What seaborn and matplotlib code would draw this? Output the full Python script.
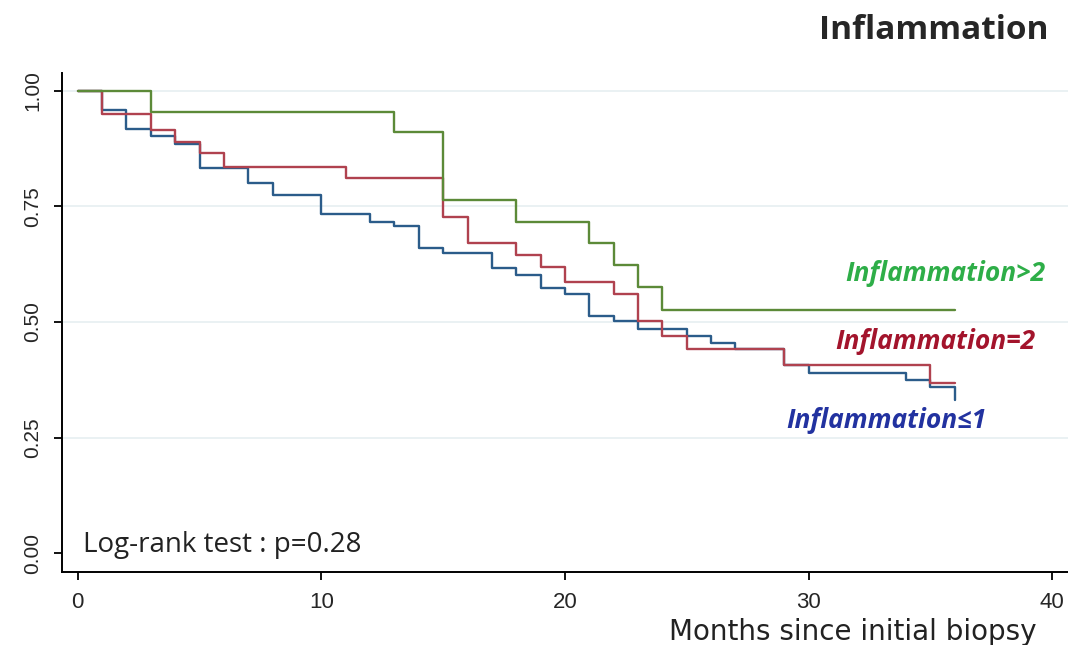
import matplotlib
matplotlib.use('Agg')
import matplotlib.pyplot as plt
import pandas as pd
import seaborn as sns

# Kaplan-Meier step values
t_low = [0, 1, 2, 3, 4, 5, 7, 8, 10, 12, 13, 14, 15, 17, 18, 19, 20, 21, 22, 23,
         25, 26, 27, 29, 30, 34, 35, 36]
s_low = [1.000, 0.959, 0.917, 0.903, 0.885, 0.833, 0.800, 0.775, 0.733, 0.717,
         0.708, 0.660, 0.649, 0.616, 0.602, 0.574, 0.560, 0.512, 0.502, 0.486,
         0.470, 0.454, 0.441, 0.407, 0.389, 0.374, 0.360, 0.331]

t_mid = [0, 1, 3, 4, 5, 6, 11, 15, 16, 18, 19, 20, 22, 23, 24, 25, 29, 35, 36]
s_mid = [1.000, 0.950, 0.916, 0.890, 0.865, 0.836, 0.811, 0.728, 0.670, 0.645,
         0.618, 0.586, 0.561, 0.503, 0.470, 0.441, 0.407, 0.369, 0.369]

t_high = [0, 3, 13, 15, 18, 21, 22, 23, 24, 36]
s_high = [1.000, 0.954, 0.912, 0.765, 0.717, 0.670, 0.623, 0.575, 0.527, 0.527]

groups = ['Inflammation≤1', 'Inflammation=2', 'Inflammation>2']
line_colors = ['#2b5c8a', '#b0424f', '#5c8a38']
text_colors = ['#2232a0', '#a3142c', '#2eae48']
y_ticks = [0.00, 0.25, 0.50, 0.75, 1.00]
x_ticks = [0, 10, 20, 30, 40]

df = pd.concat([
    pd.DataFrame({'month': t, 'surv': s, 'group': g})
    for t, s, g in zip([t_low, t_mid, t_high], [s_low, s_mid, s_high], groups)
])

sns.set_style('white')
fig = plt.figure(figsize=(10.68, 6.45), dpi=100)
ax = fig.add_axes([0.058, 0.113, 0.942, 0.774])

for g, c in zip(groups, line_colors):
    sns.lineplot(data=df[df.group == g], x='month', y='surv', color=c,
                 drawstyle='steps-post', linewidth=1.7, estimator=None,
                 legend=False, ax=ax)

ax.set_xlim(-0.65, 40.65)
ax.set_ylim(-0.041, 1.039)
ax.set_xticks(x_ticks)
ax.set_yticks(y_ticks)
ax.set_yticklabels(['%.2f' % v for v in y_ticks], rotation=90, va='center',
                   family='Liberation Sans', fontsize=15)
ax.set_xticklabels([str(v) for v in x_ticks], family='Liberation Sans', fontsize=16)
ax.tick_params(axis='both', direction='out', length=6, width=1.3, color='black',
               left=True, bottom=True, pad=8)
ax.set_xlabel('')
ax.set_ylabel('')

ax.grid(axis='y', color='#e6eff1', linewidth=1.2)
ax.get_ygridlines()[0].set_visible(False)
ax.set_axisbelow(True)

for side in ['top', 'right']:
    ax.spines[side].set_visible(False)
for side in ['left', 'bottom']:
    ax.spines[side].set_color('black')
    ax.spines[side].set_linewidth(1.4)

# curve labels
label_pos = [(33.2, 0.288), (35.2, 0.457), (35.6, 0.606)]
for g, c, (x, y) in zip(groups, text_colors, label_pos):
    ax.text(x, y, g, color=c, fontsize=19, fontweight='bold', fontstyle='italic',
            family='Open Sans', ha='center', va='center')

ax.text(0.2, 0.017, 'Log-rank test : p=0.28', fontsize=20, family='Open Sans',
        color='#222222', ha='left', va='center')

fig.text(0.874, 0.953, 'Inflammation', fontsize=24, fontweight='bold',
         family='Open Sans', ha='center', va='center')
fig.text(0.798, 0.008, 'Months since initial biopsy', fontsize=20,
         family='DejaVu Sans', color='#222222', ha='center', va='baseline')

fig.savefig('out.png', dpi=100)
